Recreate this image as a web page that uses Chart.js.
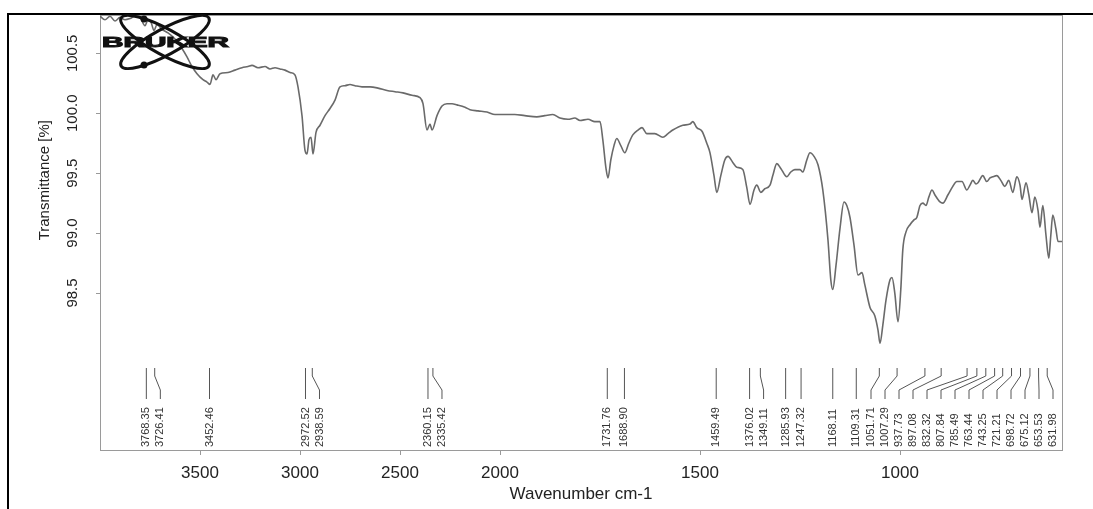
<!DOCTYPE html>
<html>
<head>
<meta charset="utf-8">
<script src="https://cdn.jsdelivr.net/npm/chart.js@4.4.1/dist/chart.umd.min.js"></script>
<style>
    html, body { margin: 0; padding: 0; background: #fff; overflow: hidden; }
    #frame { position: absolute; left: 7px; top: 13px; width: 1090px; height: 500px;
             border-top: 2px solid #000; border-left: 2px solid #000; }
    #wrap { position: absolute; left: 0; top: 0; width: 1093px; height: 509px; }
</style>
</head>
<body>
<div id="frame"></div>
<div id="wrap"><canvas id="irChart"></canvas></div>
<script>
// --- DATA ---
const WAVENUMBERS = [
    4000, 3975, 3950, 3925, 3900, 3875, 3850, 3825, 3800, 3775,
    3760, 3745, 3730, 3715, 3690, 3660, 3625, 3590, 3565, 3540,
    3515, 3485, 3465, 3450, 3435, 3420, 3400, 3360, 3325, 3290,
    3260, 3240, 3210, 3175, 3150, 3125, 3100, 3075, 3050, 3025,
    3010, 2990, 2975, 2965, 2955, 2945, 2935, 2920, 2900, 2875,
    2850, 2825, 2800, 2775, 2750, 2725, 2690, 2650, 2610, 2565,
    2525, 2485, 2440, 2400, 2385, 2365, 2350, 2340, 2315, 2290,
    2265, 2240, 2215, 2175, 2150, 2110, 2065, 2025, 1988, 1963,
    1938, 1908, 1888, 1868, 1850, 1830, 1813, 1800, 1780, 1763,
    1750, 1743, 1735, 1730, 1723, 1715, 1708, 1698, 1688, 1678,
    1668, 1655, 1645, 1633, 1613, 1593, 1580, 1568, 1543, 1525,
    1518, 1508, 1495, 1483, 1475, 1465, 1458, 1448, 1438, 1430,
    1418, 1408, 1393, 1383, 1375, 1365, 1358, 1348, 1338, 1325,
    1318, 1308, 1298, 1283, 1273, 1263, 1250, 1243, 1233, 1225,
    1215, 1205, 1193, 1180, 1173, 1168, 1160, 1150, 1140, 1133,
    1125, 1115, 1105, 1095, 1088, 1075, 1063, 1055, 1050, 1043,
    1035, 1025, 1020, 1013, 1005, 998, 993, 985, 975, 965,
    958, 950, 943, 935, 928, 920, 913, 900, 893, 880,
    868, 858, 845, 833, 825, 818, 810, 805, 793, 783,
    775, 768, 758, 748, 738, 728, 718, 708, 700, 695,
    685, 678, 670, 663, 655, 650, 643, 635, 628, 623,
    618, 610, 605, 595
];
const TRANSMITTANCE = [
    100.81, 100.78, 100.81, 100.77, 100.80, 100.78, 100.79, 100.81, 100.80, 100.73,
    100.78, 100.76, 100.69, 100.74, 100.70, 100.67, 100.62, 100.54, 100.47, 100.39,
    100.33, 100.28, 100.26, 100.24, 100.32, 100.28, 100.33, 100.34, 100.36, 100.38,
    100.39, 100.40, 100.38, 100.39, 100.37, 100.38, 100.37, 100.36, 100.34, 100.32,
    100.22, 99.98, 99.69, 99.66, 99.78, 99.80, 99.66, 99.84, 99.90, 99.98,
    100.04, 100.11, 100.22, 100.23, 100.24, 100.23, 100.22, 100.22, 100.21, 100.19,
    100.18, 100.17, 100.15, 100.13, 100.08, 99.86, 99.91, 99.86, 99.98, 100.06,
    100.08, 100.08, 100.07, 100.05, 100.03, 100.02, 100.01, 99.99, 99.99, 99.99,
    99.98, 99.97, 99.98, 99.99, 99.96, 99.95, 99.96, 99.94, 99.95, 99.93,
    99.93, 99.78, 99.54, 99.46, 99.61, 99.73, 99.79, 99.73, 99.67, 99.75,
    99.82, 99.86, 99.88, 99.83, 99.83, 99.80, 99.83, 99.86, 99.90, 99.91,
    99.93, 99.88, 99.85, 99.75, 99.67, 99.48, 99.34, 99.48, 99.61, 99.64,
    99.59, 99.55, 99.53, 99.38, 99.24, 99.36, 99.40, 99.34, 99.37, 99.40,
    99.48, 99.58, 99.54, 99.47, 99.51, 99.53, 99.53, 99.51, 99.61, 99.67,
    99.64, 99.57, 99.36, 98.94, 98.61, 98.53, 98.73, 99.04, 99.26, 99.23,
    99.13, 98.90, 98.65, 98.67, 98.57, 98.38, 98.31, 98.19, 98.08, 98.23,
    98.44, 98.61, 98.63, 98.50, 98.26, 98.53, 98.86, 99.01, 99.07, 99.11,
    99.13, 99.23, 99.25, 99.23, 99.30, 99.36, 99.32, 99.26, 99.25, 99.32,
    99.39, 99.43, 99.43, 99.36, 99.40, 99.44, 99.41, 99.42, 99.48, 99.43,
    99.46, 99.47, 99.48, 99.44, 99.39, 99.44, 99.34, 99.47, 99.40, 99.28,
    99.42, 99.32, 99.17, 99.30, 99.19, 99.05, 99.23, 98.98, 98.79, 98.98,
    99.15, 99.03, 98.93, 98.93
];

// picked peaks (cm-1), printed under the spectrum
const PEAKS = [
    3768.35, 3726.41, 3452.46, 2972.52, 2938.59, 2360.15, 2335.42, 1731.76, 1688.90,
    1459.49, 1376.02, 1349.11, 1285.93, 1247.32, 1168.11, 1109.31, 1051.71, 1007.29,
    937.73, 897.08, 832.32, 807.84, 785.49, 763.44, 743.25, 721.21, 698.72, 675.12,
    653.53, 631.98
];

const X_TICKS = [3500, 3000, 2500, 2000, 1500, 1000];
const Y_TICKS = [98.5, 99.0, 99.5, 100.0, 100.5];

// axis limits; OPUS plots below 2000 cm-1 at double scale
const X_MIN = 595, X_MAX = 4000, X_BREAK = 2000;
const Y_MIN = 97.19, Y_MAX = 100.82;

// --- CUSTOM SCALE: reversed wavenumber axis with a scale change at 2000 ---
class BrukerScale extends Chart.LinearScale {
    static id = 'bruker';
    static defaults = Chart.LinearScale.defaults;

    _span() {
        return (this.max - X_BREAK) + 2 * (X_BREAK - this.min);
    }
    getPixelForValue(v) {
        if (v === null || v === undefined) return NaN;
        const units = v >= X_BREAK ? (this.max - v) : (this.max - X_BREAK) + 2 * (X_BREAK - v);
        return this.left + units / this._span() * this.width;
    }
    getValueForPixel(p) {
        const units = (p - this.left) / this.width * this._span();
        const hi = this.max - X_BREAK;
        return units <= hi ? this.max - units : X_BREAK - (units - hi) / 2;
    }
}
Chart.register(BrukerScale);

Chart.defaults.font.family = '"Liberation Sans", Arial, sans-serif';

// --- PLUGINS ---
const plotBox = {
    id: 'plotBox',
    beforeDatasetsDraw(chart) {
        const { ctx, chartArea: a } = chart;
        ctx.save();
        ctx.strokeStyle = '#9a9a9a';
        ctx.lineWidth = 1;
        ctx.strokeRect(a.left + 0.5, a.top + 0.5, a.right - a.left, a.bottom - a.top);
        ctx.restore();
    }
};

const yTitle = {
    id: 'yTitle',
    afterDraw(chart) {
        const { ctx, scales: { y } } = chart;
        ctx.save();
        ctx.translate(45, (y.getPixelForValue(98.5) + y.getPixelForValue(100.5)) / 2 + 7);
        ctx.rotate(-Math.PI / 2);
        ctx.fillStyle = '#222';
        ctx.font = '15px "Liberation Sans", Arial, sans-serif';
        ctx.textAlign = 'center';
        ctx.textBaseline = 'middle';
        ctx.fillText('Transmittance [%]', 0, 0);
        ctx.restore();
    }
};

const peakMarks = {
    id: 'peakMarks',
    afterDatasetsDraw(chart) {
        const { ctx, chartArea: a, scales: { x } } = chart;
        const gap = 14;
        const px = PEAKS.map(p => x.getPixelForValue(p));
        const lx = px.slice();
        for (let i = 1; i < lx.length; i++) lx[i] = Math.max(lx[i], lx[i - 1] + gap);
        lx[lx.length - 1] = Math.min(lx[lx.length - 1], a.right - 9);
        for (let i = lx.length - 2; i >= 0; i--) lx[i] = Math.min(lx[i], lx[i + 1] - gap);

        const yTop = a.bottom - 82, yB1 = a.bottom - 74, yB2 = a.bottom - 60, yEnd = a.bottom - 51;
        ctx.save();
        ctx.strokeStyle = '#555';
        ctx.lineWidth = 1;
        PEAKS.forEach((p, i) => {
            ctx.beginPath();
            ctx.moveTo(px[i], yTop);
            ctx.lineTo(px[i], yB1);
            ctx.lineTo(lx[i], yB2);
            ctx.lineTo(lx[i], yEnd);
            ctx.stroke();
        });
        ctx.fillStyle = '#333';
        ctx.font = '11px "Liberation Sans", Arial, sans-serif';
        ctx.textAlign = 'left';
        ctx.textBaseline = 'middle';
        PEAKS.forEach((p, i) => {
            ctx.save();
            ctx.translate(lx[i], a.bottom - 3);
            ctx.rotate(-Math.PI / 2);
            ctx.fillText(p.toFixed(2), 0, 0);
            ctx.restore();
        });
        ctx.restore();
    }
};

const brukerLogo = {
    id: 'brukerLogo',
    afterDatasetsDraw(chart) {
        const { ctx, chartArea: a } = chart;
        const cx = a.left + 65, cy = a.top + 27;
        ctx.save();
        ctx.strokeStyle = '#111';
        ctx.lineWidth = 3;
        [-0.5, 0.5].forEach(r => {
            ctx.beginPath();
            ctx.ellipse(cx, cy, 50, 13, r, 0, Math.PI * 2);
            ctx.stroke();
        });
        ctx.fillStyle = '#111';
        [[cx - 21, cy - 23], [cx - 21, cy + 23]].forEach(([dx, dy]) => {
            ctx.beginPath();
            ctx.arc(dx, dy, 3.5, 0, Math.PI * 2);
            ctx.fill();
        });
        ctx.font = 'bold 15px "Liberation Sans", Arial, sans-serif';
        const w = ctx.measureText('BRUKER').width;
        ctx.translate(a.left + 2, cy + 5);
        ctx.scale(127 / w, 1);
        ctx.textBaseline = 'alphabetic';
        ctx.lineWidth = 1;
        ctx.strokeText('BRUKER', 0, 0);
        ctx.fillText('BRUKER', 0, 0);
        ctx.restore();
    }
};

// --- CHART ---
const ctx = document.getElementById('irChart').getContext('2d');
new Chart(ctx, {
    type: 'line',
    data: {
        datasets: [{
            data: WAVENUMBERS.map((wn, i) => ({ x: wn, y: TRANSMITTANCE[i] })),
            borderColor: '#6a6a6a',
            borderWidth: 1.6,
            pointRadius: 0,
            cubicInterpolationMode: 'monotone',
            fill: false
        }]
    },
    options: {
        responsive: true,
        maintainAspectRatio: false,
        animation: false,
        layout: { padding: { left: 10, right: 31, top: 15, bottom: 0 } },
        plugins: { legend: { display: false }, tooltip: { enabled: false } },
        scales: {
            x: {
                type: 'bruker',
                min: X_MIN,
                max: X_MAX,
                afterBuildTicks: s => { s.ticks = X_TICKS.map(v => ({ value: v })); },
                afterFit: s => { s.height = 59; },
                grid: { drawOnChartArea: false, tickLength: 5, color: '#9a9a9a' },
                border: { color: '#9a9a9a' },
                ticks: { color: '#222', font: { size: 17 }, padding: 8, maxRotation: 0, callback: v => String(v) },
                title: { display: true, text: 'Wavenumber cm-1', color: '#222', font: { size: 17 }, padding: { top: 0, bottom: 4 } }
            },
            y: {
                min: Y_MIN,
                max: Y_MAX,
                afterBuildTicks: s => { s.ticks = Y_TICKS.map(v => ({ value: v })); },
                afterFit: s => { s.width = 90; },
                grid: { drawOnChartArea: false, tickLength: 4, color: '#9a9a9a' },
                border: { color: '#9a9a9a' },
                ticks: { color: '#222', font: { size: 15 }, minRotation: 90, maxRotation: 90, crossAlign: 'center', padding: 4, callback: v => v.toFixed(1) }
            }
        }
    },
    plugins: [plotBox, peakMarks, brukerLogo, yTitle]
});
</script>
</body>
</html>
